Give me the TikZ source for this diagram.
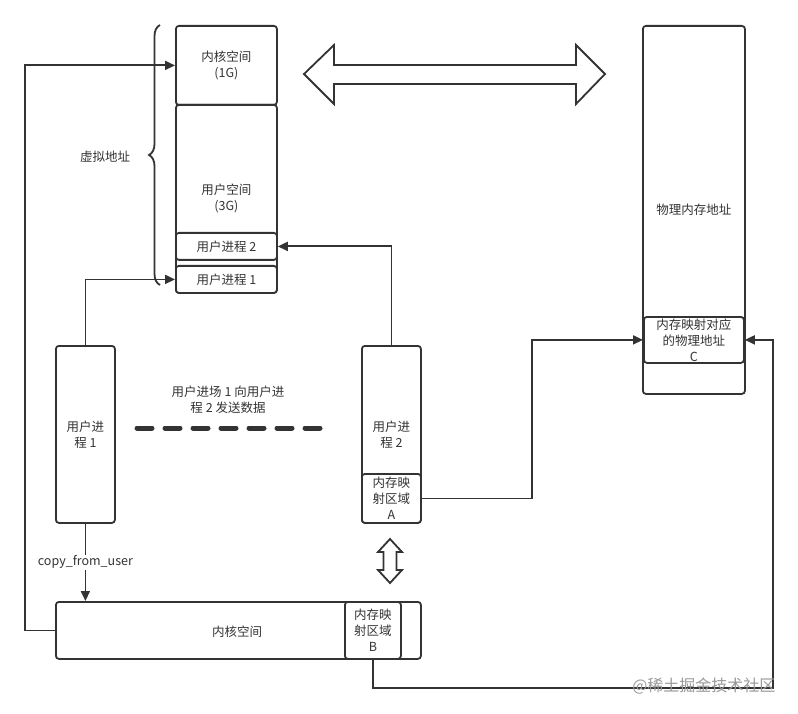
\documentclass[tikz,border=0pt]{standalone}
\usepackage{fontspec}
\setmainfont{Noto Sans CJK SC}
\usetikzlibrary{arrows.meta,decorations.pathreplacing,calc}
\definecolor{ln}{HTML}{333333}
\newcommand{\fs}{\fontsize{12.5}{16}\selectfont}
\begin{document}
\begin{tikzpicture}[x=1pt,y=-1pt,
  box/.style={draw=ln, line width=1.8, rounded corners=3, fill=white, inner sep=0, align=center, text=ln, font=\fs, anchor=north west},
  conn/.style={draw=ln, line width=1.8},
  arr/.style={conn, -{Triangle[length=10pt,width=9pt]}},
  lbl/.style={text=ln, font=\fs, align=center, inner sep=1}]
\useasboundingbox (0,0) rectangle (798,714);
% left column (virtual address)
\node[box, minimum width=101, minimum height=79] (k1) at (175,25) {内核空间\\(1G)};
\node[box, minimum width=101, minimum height=188] (us) at (175,104) {用户空间\\(3G)};
\node[box, minimum width=101, minimum height=27] (u2) at (175,232) {用户进程 2};
\node[box, minimum width=101, minimum height=27] (u1) at (175,265) {用户进程 1};
% brace
\draw[ln, line width=1.8, decorate, decoration={brace, amplitude=11}] (160,285) -- (160,25);
\node[lbl] (va) at (105,157) {虚拟地址};
% big double arrow
\draw[ln, line width=1.8, fill=white, line join=miter] (304,74) -- (334,45) -- (334,65) -- (576,65) -- (576,45) -- (605,74) -- (576,104) -- (576,84) -- (334,84) -- (334,104) -- cycle;
% physical memory
\node[box, minimum width=102, minimum height=368] (pm) at (642,25) {物理内存地址};
\node[box, minimum width=100, minimum height=46] (c) at (643,316) {内存映射对应\\的物理地址\\C};
% user processes
\node[box, minimum width=59, minimum height=177] (p1) at (55,345) {用户进\\程 1};
\node[box, minimum width=59, minimum height=177] (p2) at (361,345) {用户进\\程 2};
\node[box, minimum width=59, minimum height=49] (a) at (361,473) {内存映\\射区域\\A};
% dashed line and text
\coordinate (d1) at (137,428);
\coordinate (d2) at (326,428);
\draw[ln, line width=5, line cap=round, dash pattern=on 15 off 13] (d1) -- (d2);
\node[lbl] (msg) at (228,400) {用户进场 1 向用户进\\程 2 发送数据};
% kernel space bottom
\node[box, minimum width=365, minimum height=57] (kb) at (55,601) {};
\node[lbl] (kbt) at (237,632) {内核空间};
\node[box, minimum width=56, minimum height=57] (b) at (344,601) {内存映\\射区域\\B};
% small vertical double arrow
\draw[ln, line width=1.8, fill=white, line join=miter] (390,539) -- (402,552) -- (396.5,552) -- (396.5,570) -- (402,570) -- (390,583) -- (378,570) -- (383.5,570) -- (383.5,552) -- (378,552) -- cycle;
% connectors
\draw[arr] (p1.north) |- (u1.west);
\draw[arr] (p2.north) |- (u2.east);
\draw[arr] (kb.west) -- ++(-30,0) |- (k1.west);
\draw[arr] (p1.south) -- (p1.south |- kb.north) node[midway, fill=white, text=ln, font=\fs, inner sep=1] {copy\_from\_user};
\draw[arr] (a.east) -- ++(110,0) |- (c.west);
\coordinate (turn) at (773,688);
\draw[arr] (b.south) |- (turn) |- (c.east);
% watermark
\node[text=black!40, font=\fontsize{16}{18}\selectfont, anchor=east] (wm) at (779,686) {@稀土掘金技术社区};
\end{tikzpicture}
\end{document}
